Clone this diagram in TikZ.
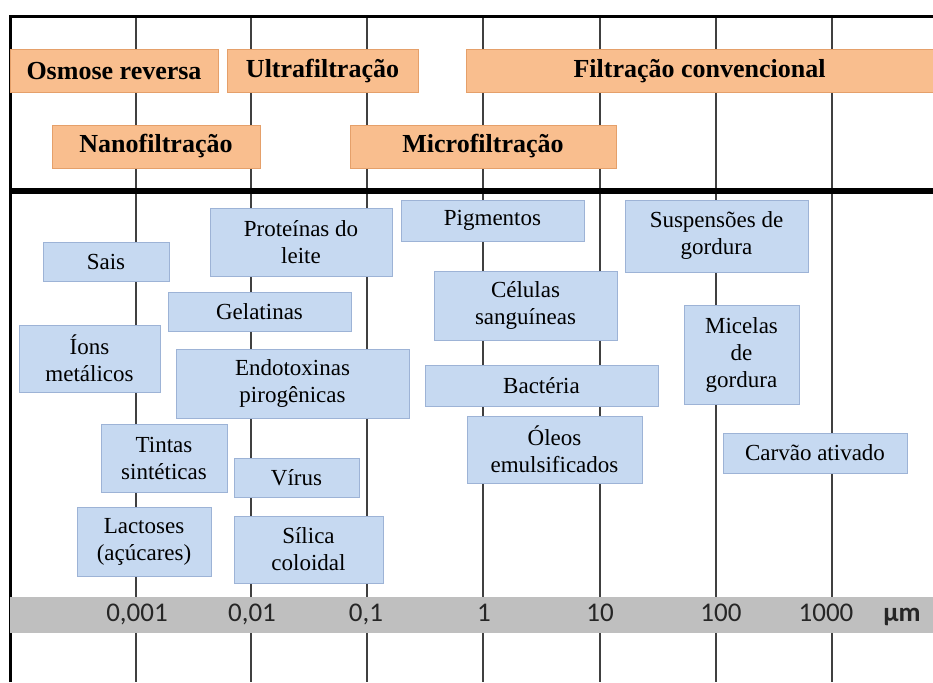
\documentclass[tikz,border=0pt]{standalone}
\usepackage{fontspec}
\setmainfont{Liberation Serif}
\newfontfamily\axisfont{Carlito}
\definecolor{orfill}{HTML}{F9BE8E}
\definecolor{ordraw}{HTML}{E5A06A}
\definecolor{blfill}{HTML}{C6D9F1}
\definecolor{bldraw}{HTML}{9DB3D6}
\definecolor{band}{HTML}{BFBFBF}
\definecolor{gridc}{HTML}{404040}
\begin{document}
\begin{tikzpicture}[x=1pt,y=-1pt,
  obox/.style={draw=ordraw,fill=orfill,line width=1pt,inner sep=0pt,align=center,
    font=\fontsize{26}{30}\selectfont\bfseries},
  bbox/.style={draw=bldraw,fill=blfill,line width=1pt,inner sep=0pt,align=center,
    font=\fontsize{23}{27}\selectfont},
  axlab/.style={inner sep=0pt,anchor=base,text=black!85,font=\axisfont\fontsize{27}{30}\selectfont},
  gridline/.style={draw=gridc,line width=1.3pt}]
\useasboundingbox (0,0) rectangle (933,682);
% grid lines
\foreach \x in {136,251,367,483,600,716,832}{
  \coordinate (gt\x) at (\x,17);
  \coordinate (gb\x) at (\x,682);
  \draw[gridline] (gt\x) -- (gb\x);
}
% frame
\coordinate (tl) at (10,17);
\coordinate (tr) at (933,17);
\coordinate (bl) at (10,682);
\coordinate (ml) at (10,191);
\coordinate (mr) at (933,191);
\draw[line width=3pt] (bl) -- (tl) -- (tr);
\draw[line width=6pt] (ml) -- (mr);
% orange process boxes
\node[obox,minimum width=208,minimum height=43] (osm) at (114,71.5) {Osmose reversa};
\node[obox,minimum width=191,minimum height=43] (ultra) at (322.5,71.5) {Ultrafiltração};
\node[obox,minimum width=467,minimum height=43] (conv) at (699.5,71.5) {Filtração convencional};
\node[obox,minimum width=208,minimum height=43] (nano) at (156,146.5) {Nanofiltração};
\node[obox,minimum width=266,minimum height=43] (micro) at (483,146.5) {Microfiltração};
% blue particle boxes
\node[bbox,minimum width=126,minimum height=39] (sais) at (106,261.5) {Sais};
\node[bbox,minimum width=182,minimum height=68] (prot) at (301,242) {Proteínas do\\leite};
\node[bbox,minimum width=183,minimum height=39] (gel) at (259.5,311.5) {Gelatinas};
\node[bbox,minimum width=141,minimum height=67] (ions) at (89.5,358.5) {Íons\\metálicos};
\node[bbox,minimum width=233,minimum height=69] (endo) at (292.5,383.5) {Endotoxinas\\pirogênicas};
\node[bbox,minimum width=183,minimum height=41] (pig) at (492.5,220.5) {Pigmentos};
\node[bbox,minimum width=183,minimum height=72] (susp) at (716.5,236) {Suspensões de\\gordura};
\node[bbox,minimum width=183,minimum height=69] (cel) at (525.5,305.5) {Células\\sanguíneas};
\node[bbox,minimum width=115,minimum height=99] (mic) at (741.5,354.5) {Micelas\\de\\gordura};
\node[bbox,minimum width=233,minimum height=41] (bact) at (541.5,385.5) {Bactéria};
\node[bbox,minimum width=175,minimum height=67] (oleo) at (554.5,449.5) {Óleos\\emulsificados};
\node[bbox,minimum width=184,minimum height=40] (carv) at (815,453) {Carvão ativado};
\node[bbox,minimum width=126,minimum height=68] (tint) at (164,458) {Tintas\\sintéticas};
\node[bbox,minimum width=125,minimum height=39] (virus) at (296.5,477.5) {Vírus};
\node[bbox,minimum width=134,minimum height=69] (lact) at (144,541.5) {Lactoses\\(açúcares)};
\node[bbox,minimum width=149,minimum height=67] (sil) at (308.5,549.5) {Sílica\\coloidal};
% axis band
\fill[band] (10,597) rectangle (933,633);
\node[axlab] (a1) at (137,621) {0,001};
\node[axlab] (a2) at (252,621) {0,01};
\node[axlab] (a3) at (366,621) {0,1};
\node[axlab] (a4) at (484,621) {1};
\node[axlab] (a5) at (600,621) {10};
\node[axlab] (a6) at (721,621) {100};
\node[axlab] (a7) at (826,621) {1000};
\node[axlab,font=\axisfont\fontsize{27}{30}\selectfont\bfseries] (unit) at (902,621) {μm};
\end{tikzpicture}
\end{document}
